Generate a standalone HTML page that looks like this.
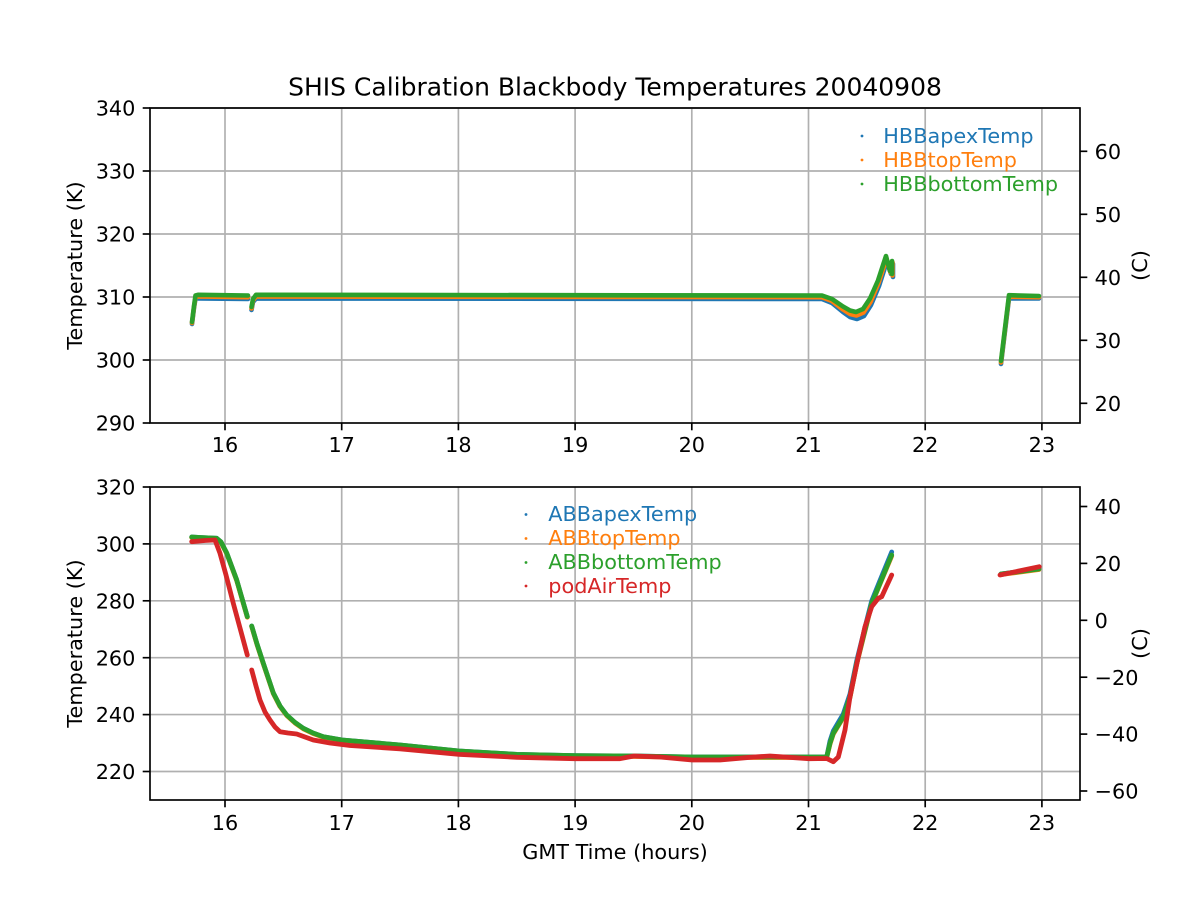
<!DOCTYPE html>
<html>
<head>
<meta charset="utf-8">
<style>
html,body{margin:0;padding:0;background:#fff;}
svg{display:block;}
text{font-family:"DejaVu Sans","Liberation Sans",sans-serif;}
</style>
</head>
<body>
<svg width="1200" height="900" viewBox="0 0 1200 900" xmlns="http://www.w3.org/2000/svg">
<rect width="1200" height="900" fill="#fff"/>

<text x="615" y="95.5" font-size="25" text-anchor="middle" fill="#000">SHIS Calibration Blackbody Temperatures 20040908</text>

<!-- ===== TOP AXES ===== -->
<g stroke="#b0b0b0" stroke-width="1.67" fill="none">
  <line x1="225" y1="108" x2="225" y2="423"/>
  <line x1="341.7" y1="108" x2="341.7" y2="423"/>
  <line x1="458.4" y1="108" x2="458.4" y2="423"/>
  <line x1="575.1" y1="108" x2="575.1" y2="423"/>
  <line x1="691.8" y1="108" x2="691.8" y2="423"/>
  <line x1="808.5" y1="108" x2="808.5" y2="423"/>
  <line x1="925.2" y1="108" x2="925.2" y2="423"/>
  <line x1="1041.9" y1="108" x2="1041.9" y2="423"/>
  <line x1="150" y1="108" x2="1080" y2="108"/>
  <line x1="150" y1="171" x2="1080" y2="171"/>
  <line x1="150" y1="234" x2="1080" y2="234"/>
  <line x1="150" y1="297" x2="1080" y2="297"/>
  <line x1="150" y1="360" x2="1080" y2="360"/>
</g>

<g fill="none" stroke-width="4.6" stroke-linejoin="round" stroke-linecap="round">
  <path stroke="#1f77b4" d="M192,324 L194,308 L195.5,298.5 L198,298.5 L248,299 M251.5,310 L253,302 L256,298.5 L822,299 L832,303 L843,312 L850,317 L857,319 L864,316 L871,305 L879,286 L887,261 L889,268 L891,274 L893,264 L893,277 M1001,364 L1009,298.5 L1039,298.5"/>
  <path stroke="#ff7f0e" d="M192,323 L194,307 L195.5,297 L198,296.5 L248,297.2 M251.5,308.5 L253,300.5 L256,296.5 L822,297.2 L832,301 L843,309.5 L850,314 L856.5,315.5 L863.5,312.5 L870.5,302 L878.5,283 L886.5,258.5 L888.5,266 L890.5,272.5 L892.5,262.5 L892.5,275.5 M1001,362.5 L1009,296.7 L1039,297.2"/>
  <path stroke="#2ca02c" d="M192,322 L194,306 L195.5,295.5 L198,294.8 L248,295.5 M251.5,307 L253,299 L256,294.8 L822,295.5 L832,299 L843,306.5 L850,310.5 L856,312 L863,309 L870,298.5 L878,280.5 L886,256 L888,264 L890,271 L892,261 L892,274 M1001,361 L1009,295.2 L1039,296"/>
</g>

<g stroke="#000" stroke-width="1.67" fill="none">
  <rect x="150" y="108" width="930" height="315"/>
  <line x1="225" y1="423" x2="225" y2="430.3"/>
  <line x1="341.7" y1="423" x2="341.7" y2="430.3"/>
  <line x1="458.4" y1="423" x2="458.4" y2="430.3"/>
  <line x1="575.1" y1="423" x2="575.1" y2="430.3"/>
  <line x1="691.8" y1="423" x2="691.8" y2="430.3"/>
  <line x1="808.5" y1="423" x2="808.5" y2="430.3"/>
  <line x1="925.2" y1="423" x2="925.2" y2="430.3"/>
  <line x1="1041.9" y1="423" x2="1041.9" y2="430.3"/>
  <line x1="142.7" y1="108" x2="150" y2="108"/>
  <line x1="142.7" y1="171" x2="150" y2="171"/>
  <line x1="142.7" y1="234" x2="150" y2="234"/>
  <line x1="142.7" y1="297" x2="150" y2="297"/>
  <line x1="142.7" y1="360" x2="150" y2="360"/>
  <line x1="142.7" y1="423" x2="150" y2="423"/>
  <line x1="1080" y1="151.3" x2="1087.3" y2="151.3"/>
  <line x1="1080" y1="214.3" x2="1087.3" y2="214.3"/>
  <line x1="1080" y1="277.3" x2="1087.3" y2="277.3"/>
  <line x1="1080" y1="340.3" x2="1087.3" y2="340.3"/>
  <line x1="1080" y1="403.3" x2="1087.3" y2="403.3"/>
</g>

<g font-size="20.8" fill="#000">
  <g text-anchor="middle">
    <text x="225" y="452">16</text>
    <text x="341.7" y="452">17</text>
    <text x="458.4" y="452">18</text>
    <text x="575.1" y="452">19</text>
    <text x="691.8" y="452">20</text>
    <text x="808.5" y="452">21</text>
    <text x="925.2" y="452">22</text>
    <text x="1041.9" y="452">23</text>
  </g>
  <g text-anchor="end">
    <text x="135.4" y="115.6">340</text>
    <text x="135.4" y="178.6">330</text>
    <text x="135.4" y="241.6">320</text>
    <text x="135.4" y="304.6">310</text>
    <text x="135.4" y="367.6">300</text>
    <text x="135.4" y="430.6">290</text>
  </g>
  <g text-anchor="start">
    <text x="1094.6" y="158.9">60</text>
    <text x="1094.6" y="221.9">50</text>
    <text x="1094.6" y="284.9">40</text>
    <text x="1094.6" y="347.9">30</text>
    <text x="1094.6" y="410.9">20</text>
  </g>
  <text transform="translate(82,265.5) rotate(-90)" text-anchor="middle">Temperature (K)</text>
  <text transform="translate(1147,265.5) rotate(-90)" text-anchor="middle">(C)</text>
</g>

<g font-size="20.8">
  <circle cx="862" cy="136" r="1.4" fill="#1f77b4"/>
  <circle cx="862" cy="160" r="1.4" fill="#ff7f0e"/>
  <circle cx="862" cy="184" r="1.4" fill="#2ca02c"/>
  <text x="883.3" y="143" fill="#1f77b4">HBBapexTemp</text>
  <text x="883.3" y="167" fill="#ff7f0e">HBBtopTemp</text>
  <text x="883.3" y="191" fill="#2ca02c">HBBbottomTemp</text>
</g>

<!-- ===== BOTTOM AXES ===== -->
<g stroke="#b0b0b0" stroke-width="1.67" fill="none">
  <line x1="225" y1="487" x2="225" y2="800"/>
  <line x1="341.7" y1="487" x2="341.7" y2="800"/>
  <line x1="458.4" y1="487" x2="458.4" y2="800"/>
  <line x1="575.1" y1="487" x2="575.1" y2="800"/>
  <line x1="691.8" y1="487" x2="691.8" y2="800"/>
  <line x1="808.5" y1="487" x2="808.5" y2="800"/>
  <line x1="925.2" y1="487" x2="925.2" y2="800"/>
  <line x1="1041.9" y1="487" x2="1041.9" y2="800"/>
  <line x1="150" y1="543.9" x2="1080" y2="543.9"/>
  <line x1="150" y1="600.8" x2="1080" y2="600.8"/>
  <line x1="150" y1="657.7" x2="1080" y2="657.7"/>
  <line x1="150" y1="714.6" x2="1080" y2="714.6"/>
  <line x1="150" y1="771.5" x2="1080" y2="771.5"/>
</g>

<g fill="none" stroke-width="4.8" stroke-linejoin="round" stroke-linecap="round">
  <path stroke="#1f77b4" d="M191.7,537 L200,537.5 L216.7,538.3 L221,542 L226.7,553 L236.7,580 L247.3,616.7 M251.7,626 L257,644 L263.3,663.3 L273.3,693 L280,706 L286.7,715 L295,722.5 L303.3,728.3 L313,733 L323.3,736.7 L342,740 L400,745 L459,751 L517,754.4 L575,755.6 L634,756 L692,757 L750,757 L809,757 L826.7,757 L830,741 L833.3,731 L843.3,714 L850,694 L856.7,661 L865,627.5 L871.7,601 L880,580.5 L891.7,552 M1001,574 L1039,569"/>
  <path stroke="#ff7f0e" d="M191.7,537.5 L200,538 L216.7,538.8 L221,542.5 L226.7,553.5 L236.7,580.5 L247.3,617.2 M251.7,626.5 L257,644.5 L263.3,663.8 L273.3,693.5 L280,706.5 L286.7,715.5 L295,723 L303.3,728.8 L313,733.5 L323.3,737.2 L342,740.5 L400,745.5 L459,751.5 L517,754.9 L575,756.1 L634,756.5 L692,757.5 L750,757.5 L809,757.5 L826.7,757.5 L830,744 L833.3,734 L843.3,717.5 L850,697.5 L856.7,664 L865,631 L871.7,604 L880,584 L891.7,556 M1001,574.5 L1039,569.5"/>
  <path stroke="#2ca02c" d="M191.7,537 L200,537.5 L216.7,538.3 L221,542 L226.7,553 L236.7,580 L247.3,616.7 M251.7,626 L257,644 L263.3,663.3 L273.3,693 L280,706 L286.7,715 L295,722.5 L303.3,728.3 L313,733 L323.3,736.7 L342,740 L400,745 L459,751 L517,754.4 L575,755.6 L634,756 L692,757 L750,757 L809,757 L826.7,757 L830,743.3 L833.3,733.3 L843.3,716.7 L850,696.7 L856.7,663.3 L865,630 L871.7,603.3 L880,583.3 L891.7,555 M1001,574 L1039,569"/>
  <path stroke="#d62728" d="M191.7,541.7 L205,540.5 L215,540 L220,553.3 L226,575 L233.3,603.3 L240,628 L247.3,655 M251.7,670 L256,686 L260,700 L265,712 L270,720 L275,727 L280,731.7 L288,733 L296.7,734 L305,737 L313.3,740 L330,743 L350,745.5 L400,748.8 L459,754.4 L517,757.3 L575,758.7 L620,758.7 L634,756 L660,757 L692,760 L720,760 L750,757.3 L770,756 L809,758.7 L826.7,758.5 L833.3,761.7 L838.3,757 L845,730 L850,696.7 L858.3,656.7 L865,626.7 L871.7,606.7 L878.3,598.3 L881.7,596.7 L891.7,575 M1000,575 L1039.3,566.7"/>
</g>

<g stroke="#000" stroke-width="1.67" fill="none">
  <rect x="150" y="487" width="930" height="313"/>
  <line x1="225" y1="800" x2="225" y2="807.3"/>
  <line x1="341.7" y1="800" x2="341.7" y2="807.3"/>
  <line x1="458.4" y1="800" x2="458.4" y2="807.3"/>
  <line x1="575.1" y1="800" x2="575.1" y2="807.3"/>
  <line x1="691.8" y1="800" x2="691.8" y2="807.3"/>
  <line x1="808.5" y1="800" x2="808.5" y2="807.3"/>
  <line x1="925.2" y1="800" x2="925.2" y2="807.3"/>
  <line x1="1041.9" y1="800" x2="1041.9" y2="807.3"/>
  <line x1="142.7" y1="487" x2="150" y2="487"/>
  <line x1="142.7" y1="543.9" x2="150" y2="543.9"/>
  <line x1="142.7" y1="600.8" x2="150" y2="600.8"/>
  <line x1="142.7" y1="657.7" x2="150" y2="657.7"/>
  <line x1="142.7" y1="714.6" x2="150" y2="714.6"/>
  <line x1="142.7" y1="771.5" x2="150" y2="771.5"/>
  <line x1="1080" y1="506.5" x2="1087.3" y2="506.5"/>
  <line x1="1080" y1="563.4" x2="1087.3" y2="563.4"/>
  <line x1="1080" y1="620.3" x2="1087.3" y2="620.3"/>
  <line x1="1080" y1="677.2" x2="1087.3" y2="677.2"/>
  <line x1="1080" y1="734.1" x2="1087.3" y2="734.1"/>
  <line x1="1080" y1="791" x2="1087.3" y2="791"/>
</g>

<g font-size="20.8" fill="#000">
  <g text-anchor="middle">
    <text x="225" y="830">16</text>
    <text x="341.7" y="830">17</text>
    <text x="458.4" y="830">18</text>
    <text x="575.1" y="830">19</text>
    <text x="691.8" y="830">20</text>
    <text x="808.5" y="830">21</text>
    <text x="925.2" y="830">22</text>
    <text x="1041.9" y="830">23</text>
  </g>
  <g text-anchor="end">
    <text x="135.4" y="494.6">320</text>
    <text x="135.4" y="551.5">300</text>
    <text x="135.4" y="608.4">280</text>
    <text x="135.4" y="665.3">260</text>
    <text x="135.4" y="722.2">240</text>
    <text x="135.4" y="779.1">220</text>
  </g>
  <g text-anchor="start">
    <text x="1094.6" y="514.1">40</text>
    <text x="1094.6" y="571">20</text>
    <text x="1094.6" y="627.9">0</text>
    <text x="1094.6" y="684.8">−20</text>
    <text x="1094.6" y="741.7">−40</text>
    <text x="1094.6" y="798.6">−60</text>
  </g>
  <text transform="translate(82,643.5) rotate(-90)" text-anchor="middle">Temperature (K)</text>
  <text transform="translate(1147,643.5) rotate(-90)" text-anchor="middle">(C)</text>
  <text x="615" y="859" text-anchor="middle">GMT Time (hours)</text>
</g>

<g font-size="20.8">
  <circle cx="526" cy="514.5" r="1.4" fill="#1f77b4"/>
  <circle cx="526" cy="538.5" r="1.4" fill="#ff7f0e"/>
  <circle cx="526" cy="562.5" r="1.4" fill="#2ca02c"/>
  <circle cx="526" cy="586" r="1.4" fill="#d62728"/>
  <text x="548.3" y="521" fill="#1f77b4">ABBapexTemp</text>
  <text x="548.3" y="545" fill="#ff7f0e">ABBtopTemp</text>
  <text x="548.3" y="569" fill="#2ca02c">ABBbottomTemp</text>
  <text x="548.3" y="593" fill="#d62728">podAirTemp</text>
</g>
</svg>
</body>
</html>
